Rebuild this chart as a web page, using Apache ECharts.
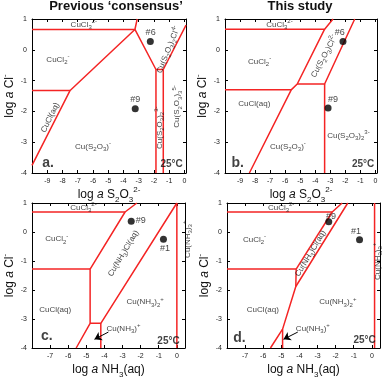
<!DOCTYPE html>
<html><head><meta charset="utf-8">
<script src="https://cdn.jsdelivr.net/npm/echarts@6/dist/echarts.min.js"></script>
<style>html,body{margin:0;padding:0;background:#fff}#c{width:392px;height:380px}</style>
</head><body><div id="c"></div>
<script>
// ---- axis ranges / ticks ----
const xRangeAB = [-10, 0.1];
const xRangeCD = [-8, 0.45];
const yRange = [-4, 1];
const xLabelMinAB = -9;
const xLabelMinCD = -7;

// ---- boundary polylines (log a X, log a Cl-) ----
const linesA = [
  [[-10, 0.66], [-3.25, 0.66], [-3.1, 1]],
  [[-3.25, 0.66], [-7.5, -1.32], [-10, -3.75]],
  [[-10, -1.32], [-7.5, -1.32]],
  [[-3.25, 0.66], [-1.87, -0.64], [-1.39, -0.64], [0.1, 0.8]],
  [[-1.87, -0.64], [-1.87, -4]],
  [[-1.39, -0.64], [-1.39, -4]]
];
const linesB = [
  [[-10, 0.67], [-3.38, 0.67], [-2.82, 1]],
  [[-3.38, 0.67], [-5.2, -1.11], [-5.6, -1.3], [-8.38, -4]],
  [[-10, -1.3], [-5.6, -1.3]],
  [[-5.2, -1.11], [-3.38, -1.11], [-1.38, 1]],
  [[-3.38, -1.11], [-3.38, -4]]
];
const linesC = [
  [[-8, 0.69], [-2.86, 0.69], [-2.21, 1]],
  [[-2.86, 0.69], [-4.79, -1.28], [-4.79, -3.15], [-5.56, -4]],
  [[-8, -1.28], [-4.79, -1.28]],
  [[-4.79, -3.15], [-4.2, -3.15], [0, 1]],
  [[-4.2, -3.15], [-4.2, -4]],
  [[0, 1], [0, -4]]
];
const linesD = [
  [[-8, 0.69], [-2.19, 0.69], [-1.64, 1]],
  [[-2.19, 0.69], [-4.18, -1.28]],
  [[-8, -1.28], [-4.18, -1.28], [-4.2, -1.88]],
  [[-1.33, 1], [-4.2, -1.88], [-4.93, -3.35], [-5.6, -4]],
  [[-4.93, -3.35], [-4.93, -4]],
  [[0.15, 1], [0.15, -4]]
];

// ---- sample points ----
const pointsA = [[-2.24, 0.27], [-3.23, -1.91]];
const pointsB = [[-2.16, 0.27], [-3.15, -1.89]];
const pointsC = [[-2.52, 0.37], [-0.74, -0.25]];
const pointsD = [[-2.38, 0.35], [-0.68, -0.27]];

// ---- text labels: [x, y, text, rotate, kind] ----
const labelsA = [
  [-6.6, 0.82, 'CuCl_3^{2-}', 0, 'r'],
  [-8.3, -0.32, 'CuCl_2^{-}', 0, 'r'],
  [-8.8, -2.2, 'CuCl(aq)', 64, 'r'],
  [-2.22, 0.56, '#6', 0, 'p'],
  [-3.23, -1.62, '#9', 0, 'p'],
  [-6.0, -3.14, 'Cu(S_2O_3)^{-}', 0, 'r'],
  [-1.05, 0.0, 'Cu(S_2O_3)_2Cl^{4-}', 68, 'r'],
  [-1.63, -2.53, 'Cu(S_2O_3)_2^{3-}', 90, 'r'],
  [-0.5, -1.84, 'Cu(S_2O_3)_3^{5-}', 90, 'r'],
  [-8.95, -3.67, 'a.', 0, 'L'],
  [-0.84, -3.73, '25°C', 0, 'T']
];
const labelsB = [
  [-6.38, 0.82, 'CuCl_3^{2-}', 0, 'r'],
  [-7.7, -0.38, 'CuCl_2^{-}', 0, 'r'],
  [-8.05, -1.76, 'CuCl(aq)', 0, 'r'],
  [-3.4, -0.21, 'Cu(S_2O_3)Cl^{2-}', 62, 'r'],
  [-2.38, 0.56, '#6', 0, 'p'],
  [-2.82, -1.6, '#9', 0, 'p'],
  [-1.8, -2.79, 'Cu(S_2O_3)_2^{3-}', 0, 'r'],
  [-5.82, -3.14, 'Cu(S_2O_3)^{-}', 0, 'r'],
  [-9.15, -3.67, 'b.', 0, 'L'],
  [-0.82, -3.73, '25°C', 0, 'T']
];
const labelsC = [
  [-5.16, 0.85, 'CuCl_3^{2-}', 0, 'r'],
  [-6.63, -0.25, 'CuCl_2^{-}', 0, 'r'],
  [-6.72, -2.69, 'CuCl(aq)', 0, 'r'],
  [-2.95, -0.74, 'Cu(NH_3)Cl(aq)', 59, 'r'],
  [-2.0, 0.41, '#9', 0, 'p'],
  [-0.65, -0.58, '#1', 0, 'p'],
  [0.58, -0.25, 'Cu(NH_3)_3^{+}', 90, 'r'],
  [-1.75, -2.42, 'Cu(NH_3)_2^{+}', 0, 'r'],
  [-2.95, -3.33, 'Cu(NH_3)^{+}', 0, 'r'],
  [-7.18, -3.6, 'c.', 0, 'L'],
  [-0.46, -3.75, '25°C', 0, 'T']
];
const labelsD = [
  [-5.01, 0.85, 'CuCl_3^{2-}', 0, 'r'],
  [-6.48, -0.27, 'CuCl_2^{-}', 0, 'r'],
  [-6.02, -2.69, 'CuCl(aq)', 0, 'r'],
  [-3.38, -0.74, 'Cu(NH_3)Cl(aq)', 59, 'r'],
  [-2.26, 0.54, '#9', 0, 'p'],
  [-0.87, 0.02, '#1', 0, 'p'],
  [0.33, -1.01, 'Cu(NH_3)_3^{+}', 90, 'r'],
  [-1.88, -2.42, 'Cu(NH_3)_2^{+}', 0, 'r'],
  [-3.26, -3.33, 'Cu(NH_3)^{+}', 0, 'r'],
  [-7.31, -3.67, 'd.', 0, 'L'],
  [-0.4, -3.73, '25°C', 0, 'T']
];

// ---- arrows to Cu(NH3)+ field ----
const arrowC = [[-3.78, -3.45], [-4.55, -3.7]];
const arrowD = [[-4.09, -3.45], [-4.88, -3.7]];

// ---- axis titles ----
const xTitleAB = 'log ~a~ S_2O_3^{2-}';
const xTitleCD = 'log ~a~ NH_3(aq)';
const yTitle = 'log ~a~ Cl^{-}';
const panelTitles = ['Previous ‘consensus’', 'This study'];

const FONT = '"Liberation Sans", Arial, sans-serif';
const RED = '#f42424';

function toRich(s) {
  let out = '', buf = '', i = 0;
  const flush = () => { if (buf) { out += '{n|' + buf + '}'; buf = ''; } };
  while (i < s.length) {
    const c = s[i];
    if (c === '_' || c === '^') {
      flush();
      let t;
      if (s[i + 1] === '{') { const j = s.indexOf('}', i); t = s.slice(i + 2, j); i = j + 1; }
      else { t = s[i + 1]; i += 2; }
      out += '{' + (c === '_' ? 'b' : 'p') + '|' + t + '}';
    } else if (c === '~') {
      flush();
      const j = s.indexOf('~', i + 1);
      out += '{i|' + s.slice(i + 1, j) + '}';
      i = j + 1;
    } else { buf += c; i++; }
  }
  flush();
  return out;
}
function richSet(size, bold) {
  const small = Math.round(size * 0.7);
  const lh = Math.round(size * 1.5);
  const fw = bold ? 'bold' : 'normal';
  return {
    n: { fontSize: size, fontFamily: FONT, color: '#111', lineHeight: lh, fontWeight: fw },
    i: { fontSize: size, fontFamily: FONT, color: '#111', lineHeight: lh, fontStyle: 'italic', fontWeight: fw },
    b: { fontSize: small, fontFamily: FONT, color: '#111', lineHeight: lh, verticalAlign: 'bottom', fontWeight: fw },
    p: { fontSize: small, fontFamily: FONT, color: '#111', lineHeight: lh, verticalAlign: 'top', fontWeight: fw }
  };
}

const panels = [
  { grid: { left: 32, top: 19, width: 154, height: 154 }, xr: xRangeAB, xmin: xLabelMinAB, lines: linesA, pts: pointsA, labels: labelsA, xt: xTitleAB, gap: 11 },
  { grid: { left: 225, top: 19, width: 152, height: 154 }, xr: xRangeAB, xmin: xLabelMinAB, lines: linesB, pts: pointsB, labels: labelsB, xt: xTitleAB, gap: 11 },
  { grid: { left: 32, top: 203, width: 153, height: 154 }, xr: xRangeCD, xmin: xLabelMinCD, lines: linesC, pts: pointsC, labels: labelsC, xt: xTitleCD, arrow: arrowC, gap: 13 },
  { grid: { left: 227, top: 203, width: 153, height: 154 }, xr: xRangeCD, xmin: xLabelMinCD, lines: linesD, pts: pointsD, labels: labelsD, xt: xTitleCD, arrow: arrowD, gap: 13 }
];

const grids = [], xAxes = [], yAxes = [], series = [];
const axisLine = { show: true, onZero: false, lineStyle: { color: '#000', width: 1 } };
const tick = { show: true, inside: true, length: 3, lineStyle: { color: '#000', width: 1 } };

panels.forEach((p, k) => {
  grids.push(Object.assign({ containLabel: false, show: false }, p.grid));
  const lo = p.xmin;
  xAxes.push({
    gridIndex: k, type: 'value', position: 'bottom', min: p.xr[0], max: p.xr[1], interval: 1,
    axisLine, axisTick: tick, splitLine: { show: false },
    axisLabel: { fontSize: 7, fontFamily: FONT, color: '#222', margin: 5,
      formatter: v => (Math.abs(v - Math.round(v)) < 1e-6 && v >= lo - 1e-6 && v <= 1e-6) ? String(Math.round(v)) : '' },
    name: toRich(p.xt), nameLocation: 'middle', nameGap: p.gap,
    nameTextStyle: { rich: richSet(12, false) }
  });
  xAxes.push({
    gridIndex: k, type: 'value', position: 'top', min: p.xr[0], max: p.xr[1], interval: 1,
    axisLine, axisTick: tick, splitLine: { show: false }, axisLabel: { show: false }
  });
  yAxes.push({
    gridIndex: k, type: 'value', position: 'left', min: yRange[0], max: yRange[1], interval: 1,
    axisLine, axisTick: tick, splitLine: { show: false },
    axisLabel: { fontSize: 7, fontFamily: FONT, color: '#222', margin: 5 },
    name: toRich(yTitle), nameLocation: 'middle', nameGap: 13, nameRotate: 90,
    nameTextStyle: { rich: richSet(12, false) }
  });
  yAxes.push({
    gridIndex: k, type: 'value', position: 'right', min: yRange[0], max: yRange[1], interval: 1,
    axisLine, axisTick: tick, splitLine: { show: false }, axisLabel: { show: false }
  });
  const xi = 2 * k, yi = 2 * k;
  p.lines.forEach(l => series.push({
    type: 'line', xAxisIndex: xi, yAxisIndex: yi, data: l, symbol: 'none', silent: true,
    lineStyle: { color: RED, width: 1.5 }, animation: false, z: 2
  }));
  series.push({
    type: 'scatter', xAxisIndex: xi, yAxisIndex: yi, data: p.pts, symbol: 'circle', symbolSize: 7,
    itemStyle: { color: '#000' }, animation: false, z: 4
  });
  series.push({
    type: 'scatter', xAxisIndex: xi, yAxisIndex: yi, symbolSize: 0, clip: false, animation: false, z: 5,
    label: { show: true, position: 'inside', rich: richSet(8, false) },
    data: p.labels.map(L => {
      let lab;
      if (L[4] === 'r') lab = { formatter: toRich(L[2]), rotate: L[3], rich: richSet(8, false) };
      else if (L[4] === 'p') lab = { formatter: L[2], rotate: 0, fontSize: 9, fontFamily: FONT, color: '#111' };
      else if (L[4] === 'L') lab = { formatter: L[2], rotate: 0, fontSize: 14, fontWeight: 'bold', fontFamily: FONT, color: '#111' };
      else lab = { formatter: L[2], rotate: 0, fontSize: 10, fontWeight: 'bold', fontFamily: FONT, color: '#111' };
      return { value: [L[0], L[1]], label: lab };
    })
  });
  if (p.arrow) {
    series.push({
      type: 'lines', coordinateSystem: 'cartesian2d', xAxisIndex: xi, yAxisIndex: yi,
      symbol: ['none', 'arrow'], symbolSize: 7, animation: false, z: 6,
      lineStyle: { color: '#000', width: 1, opacity: 1 },
      data: [{ coords: p.arrow }]
    });
  }
});

const chart = echarts.init(document.getElementById('c'), null, { renderer: 'canvas' });
chart.setOption({
  animation: false,
  title: [
    { text: panelTitles[0], left: 116, top: 0, textAlign: 'center', padding: 0, textStyle: { fontSize: 13, fontWeight: 'bold', fontFamily: FONT, color: '#111' } },
    { text: panelTitles[1], left: 300, top: 0, textAlign: 'center', padding: 0, textStyle: { fontSize: 13, fontWeight: 'bold', fontFamily: FONT, color: '#111' } }
  ],
  grid: grids, xAxis: xAxes, yAxis: yAxes, series
});
</script>
</body></html>
